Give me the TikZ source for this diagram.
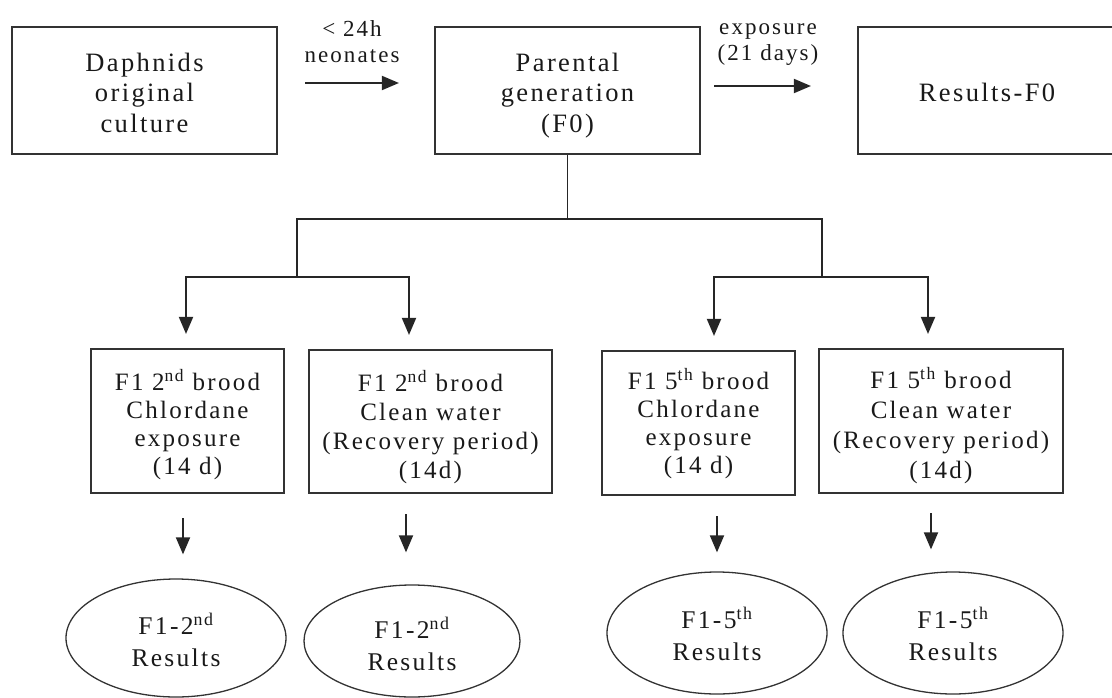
\documentclass[tikz,border=0pt]{standalone}
\usepackage{fontspec}
\setmainfont{Liberation Serif}[LetterSpace=9]
\usetikzlibrary{arrows.meta,shapes.geometric}
\newcommand\mtxt[2]{\raisebox{#1}[\height][\depth]{\begin{tabular}{@{}c@{}}#2\end{tabular}}}
\begin{document}
\begin{tikzpicture}[x=1pt,y=-1pt,
  boxnode/.style={draw=black!80, line width=2.1pt, inner sep=0pt,
    text=black!90, font=\fontsize{25}{28}\selectfont},
  topbox/.style={boxnode, minimum height=127pt, font=\fontsize{26.5}{30.5}\selectfont},
  midbox/.style={boxnode, minimum height=144pt},
  ellnode/.style={ellipse, draw=black!80, line width=1.3pt, inner sep=0pt,
    text=black!90, font=\fontsize{25.5}{32}\selectfont},
  conn/.style={draw=black!85, line width=1.9pt},
  arr/.style={conn, -{Triangle[length=17pt,width=14pt]}},
  lab/.style={inner sep=0pt, text=black!90, font=\fontsize{23}{25.5}\selectfont}]
\useasboundingbox (0,0) rectangle (1112,697);

% top row
\node[topbox, minimum width=265pt] (B1) at (144.5,90.5)
  {\mtxt{-5pt}{Daphnids\\original\\culture}};
\node[topbox, minimum width=265pt] (P) at (567.5,90.5)
  {\mtxt{-5pt}{Parental\\generation\\(F0)}};
\node[topbox, minimum width=258pt] (R0) at (987,90.5)
  {\mtxt{-5pt}{Results-F0}};

\node[lab] (lab1) at (352,41) {\mtxt{-3.5pt}{< 24h\\neonates}};
\node[lab] (lab2) at (768,39.5) {\mtxt{-3pt}{exposure\\(21 days)}};

\draw[arr, shorten <=27pt, shorten >=35pt] ([yshift=7.5pt]B1.east) -- ([yshift=7.5pt]P.west);
\draw[arr, shorten <=13pt, shorten >=46pt] ([yshift=4.5pt]P.east) -- ([yshift=4.5pt]R0.west);

% second row boxes
\node[midbox, minimum width=193pt] (L1) at (187.5,421)
  {\mtxt{-5pt}{F1 2\textsuperscript{nd} brood\\Chlordane\\exposure\\(14 d)}};
\node[midbox, minimum width=243pt, minimum height=143pt, font=\fontsize{25}{29}\selectfont] (L2) at (430.5,421.5)
  {\mtxt{-7pt}{F1 2\textsuperscript{nd} brood\\Clean water\\(Recovery period)\\(14d)}};
\node[midbox, minimum width=193pt] (R1) at (698.5,423)
  {\mtxt{-2pt}{F1 5\textsuperscript{th} brood\\Chlordane\\exposure\\(14 d)}};
\node[midbox, minimum width=244pt, font=\fontsize{25}{30}\selectfont] (R2) at (941,421)
  {\mtxt{-6pt}{F1 5\textsuperscript{th} brood\\Clean water\\(Recovery period)\\(14d)}};

% tree connectors
\coordinate (jl) at (297,219);
\coordinate (jr) at (822,219);
\coordinate (jl2) at (297,277);
\coordinate (jr2) at (822,277);
\coordinate (a1) at (186,277);
\coordinate (a2) at (409,277);
\coordinate (a3) at (714,277);
\coordinate (a4) at (928,277);
\draw[conn] (P.south) -- (P.south |- jl);
\draw[conn, line cap=rect] (jl) -- (jr);
\draw[conn] (jl) -- (jl2);
\draw[conn] (jr) -- (jr2);
\draw[conn, line cap=rect] (a1) -- (a2);
\draw[conn, line cap=rect] (a3) -- (a4);
\draw[arr, shorten >=14pt] (a1) -- (a1 |- L1.north);
\draw[arr, shorten >=14pt] (a2) -- (a2 |- L2.north);
\draw[arr, shorten >=14pt] (a3) -- (a3 |- R1.north);
\draw[arr, shorten >=14pt] (a4) -- (a4 |- R2.north);

% ellipses
\node[ellnode, minimum width=220pt, minimum height=118pt] (E1) at (176,638)
  {\mtxt{-6pt}{F1-2\textsuperscript{nd}\\Results}};
\node[ellnode, minimum width=216pt, minimum height=112pt] (E2) at (412,641)
  {\mtxt{-7pt}{F1-2\textsuperscript{nd}\\Results}};
\node[ellnode, minimum width=220pt, minimum height=122pt] (E3) at (717,633)
  {\mtxt{-5pt}{F1-5\textsuperscript{th}\\Results}};
\node[ellnode, minimum width=220pt, minimum height=122pt] (E4) at (953,633)
  {\mtxt{-5pt}{F1-5\textsuperscript{th}\\Results}};

% result arrows
\path ([xshift=-4.5pt]L1.south) coordinate (s1);
\path ([xshift=-24.5pt]L2.south) coordinate (s2);
\path ([xshift=18.5pt]R1.south) coordinate (s3);
\path ([xshift=-10pt]R2.south) coordinate (s4);
\draw[arr, shorten <=24pt, shorten >=24pt] (s1) -- (s1 |- E1.north);
\draw[arr, shorten <=20pt, shorten >=32pt] (s2) -- (s2 |- E2.north);
\draw[arr, shorten <=20pt, shorten >=19pt] (s3) -- (s3 |- E3.north);
\draw[arr, shorten <=19pt, shorten >=22pt] (s4) -- (s4 |- E4.north);
\end{tikzpicture}
\end{document}
